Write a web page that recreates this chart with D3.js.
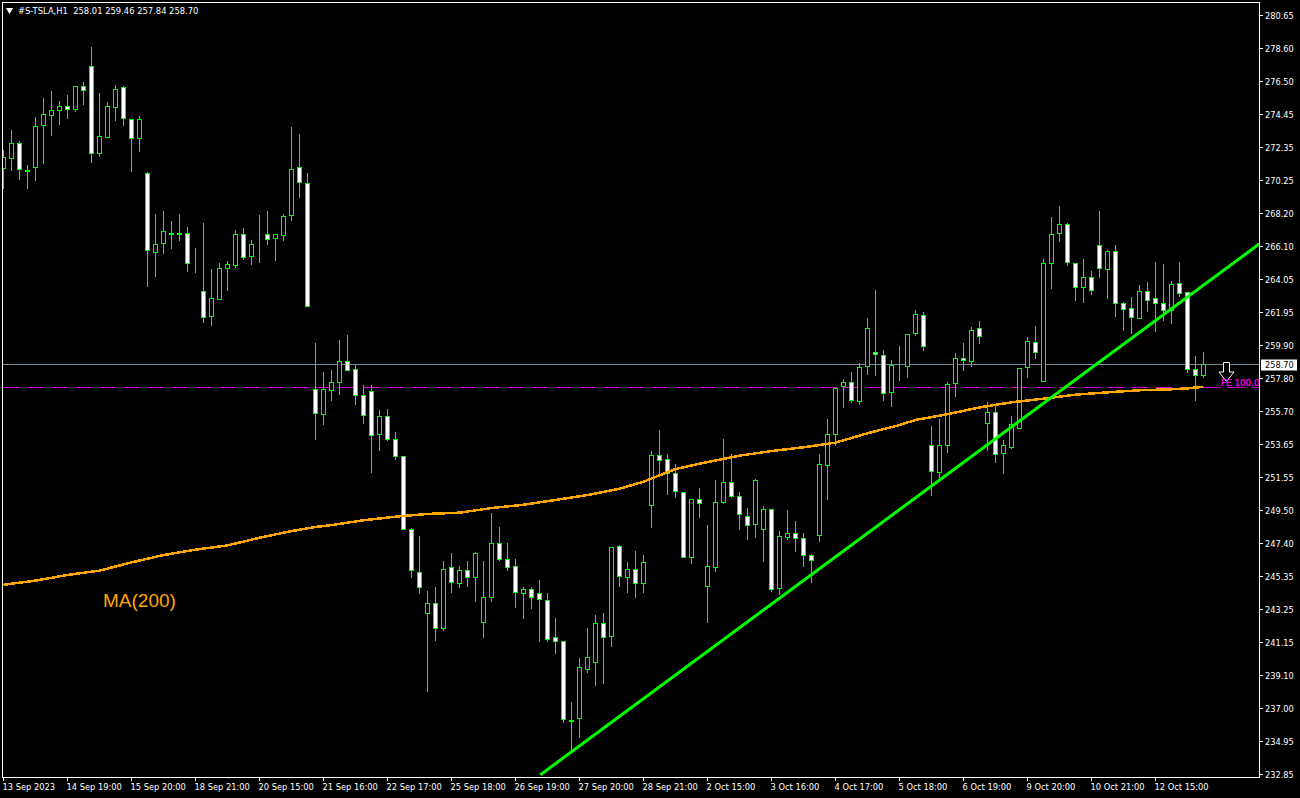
<!DOCTYPE html>
<html><head><meta charset="utf-8">
<script src="https://cdn.jsdelivr.net/npm/d3@7/dist/d3.min.js"></script>
<style>
html,body{margin:0;padding:0;background:#000;overflow:hidden}
svg{display:block}
text{font-family:"DejaVu Sans",sans-serif;white-space:pre}
</style></head><body>
<svg id="c" width="1300" height="798"></svg>
<script>
const symbolTitle = "#S-TSLA,H1  258.01 259.46 257.84 258.70";
const opens = [271.01,271.64,272.59,270.95,271.14,273.72,274.42,274.73,274.92,274.73,276.18,277.50,271.96,273.03,274.92,276.12,274.16,272.97,270.76,265.79,266.29,266.98,266.98,266.98,265.09,263.33,261.69,262.76,264.72,264.97,266.92,265.47,266.92,266.92,266.61,266.86,268.12,271.08,270.13,257.10,255.52,257.10,257.60,258.92,258.36,256.72,257.03,254.26,255.40,253.95,252.88,248.28,245.63,243.05,243.68,242.11,245.89,244.94,245.76,245.32,242.48,244.06,247.46,246.45,245.95,244.31,244.56,244.25,243.87,241.54,241.23,236.31,236.37,239.53,239.97,242.42,241.54,247.21,245.32,245.82,244.94,249.85,252.99,252.69,251.81,250.61,246.51,250.23,244.69,245.95,250.04,251.24,250.36,249.16,248.59,248.28,249.60,244.56,247.84,248.09,247.77,246.70,247.96,252.37,254.32,257.29,257.54,256.40,258.61,259.43,259.30,256.91,258.61,258.61,260.62,261.76,253.57,251.93,253.63,257.47,259.05,258.92,260.94,254.95,255.71,253.06,253.50,254.70,258.48,260.06,257.66,265.09,266.92,267.49,265.09,263.58,264.21,266.17,264.72,265.85,262.57,262.20,261.63,263.33,262.89,262.57,262.13,263.83,263.21,258.36,258.01];
const closes = [271.71,272.59,270.95,270.89,273.72,274.42,274.73,274.98,274.73,276.18,275.93,272.02,273.03,274.98,276.05,274.16,272.97,274.16,265.91,266.29,267.05,266.92,266.92,265.09,265.09,261.69,262.83,264.72,264.97,266.92,265.47,266.23,266.92,266.61,266.86,268.05,271.01,270.13,262.39,255.58,257.10,257.60,258.92,258.36,256.72,255.46,254.26,255.40,253.95,252.88,248.28,245.70,244.69,243.68,242.11,245.82,244.94,245.76,245.32,246.83,244.06,247.46,246.45,245.95,244.31,244.56,244.06,243.87,241.41,241.29,236.31,236.25,239.59,240.28,242.42,241.54,247.15,245.32,245.82,244.94,246.26,252.99,252.69,251.81,250.67,246.51,250.17,249.98,245.95,250.04,251.30,250.36,249.22,248.59,251.37,249.54,244.56,247.84,248.09,247.77,246.70,246.39,252.43,254.32,257.22,257.54,256.40,258.54,261.00,259.30,256.91,258.61,258.61,260.62,261.82,259.80,251.93,253.63,257.47,259.05,258.92,260.87,260.43,255.65,253.06,253.57,254.95,258.48,260.12,259.43,265.09,266.92,267.49,265.09,263.58,264.21,263.39,264.72,265.85,262.57,262.20,261.63,263.33,262.76,262.57,262.13,263.77,263.21,258.36,258.01,258.70];
const highs = [272.21,273.47,272.78,271.27,274.29,275.49,275.93,275.30,275.67,276.24,276.49,278.70,275.80,275.23,276.31,276.24,274.16,274.35,270.83,268.18,268.37,267.74,268.18,267.36,266.04,267.61,264.72,265.09,265.22,267.17,267.30,266.54,268.12,268.37,266.92,268.18,273.66,273.22,270.76,260.06,258.23,258.36,260.25,260.56,258.67,257.41,257.41,255.84,255.90,254.45,252.88,248.40,247.90,244.44,244.69,246.35,246.83,246.01,246.35,246.89,246.35,249.35,248.47,247.46,246.45,244.69,244.69,245.13,244.31,242.73,241.23,237.45,240.22,242.11,242.93,243.05,247.21,247.33,246.26,246.96,246.70,253.25,254.58,253.06,252.43,250.67,250.23,250.92,248.59,251.43,254.01,253.06,250.67,249.66,251.49,249.79,249.60,248.22,249.54,248.84,248.09,246.77,253.06,255.27,257.22,257.79,258.23,258.80,261.63,263.39,259.61,258.98,259.87,260.62,262.13,262.01,254.83,255.27,257.60,259.43,260.06,261.06,261.44,256.34,256.09,253.95,255.46,258.48,260.43,261.13,265.35,267.99,268.68,267.61,265.09,265.35,264.59,268.37,265.91,266.23,262.64,262.95,263.71,263.90,265.16,265.03,263.96,265.16,263.27,259.24,259.46];
const lows = [269.76,270.89,270.32,269.76,270.26,271.33,273.09,273.79,274.16,274.60,275.05,271.39,271.77,273.03,274.04,273.72,270.83,272.09,263.58,264.21,265.66,265.98,266.48,264.53,264.46,261.32,261.13,262.76,263.33,264.78,265.28,264.97,265.09,266.23,265.22,266.48,267.74,269.19,262.32,253.95,254.89,256.40,256.78,258.29,256.15,254.95,251.87,253.25,253.88,252.69,248.28,245.26,244.25,238.07,241.29,241.92,244.31,244.63,244.69,243.74,241.48,243.74,246.35,245.70,243.37,242.67,243.30,241.23,241.23,240.47,236.12,234.42,235.18,239.27,238.45,238.58,240.91,244.69,244.31,244.00,244.31,248.40,251.62,250.48,250.29,246.51,246.14,249.03,242.42,245.63,249.92,250.29,248.28,247.65,247.78,246.26,244.37,244.18,247.65,246.89,245.95,244.94,247.52,250.17,253.57,255.96,256.28,256.15,258.04,257.98,256.40,256.02,257.66,257.85,260.50,259.55,250.42,251.43,253.13,256.66,258.29,258.54,259.99,253.25,252.50,251.81,253.38,254.64,257.85,259.05,257.60,263.46,266.42,264.91,262.70,262.57,263.08,264.15,262.83,261.69,260.81,260.62,261.57,262.01,260.75,261.44,261.25,262.95,258.17,256.40,257.84];
const maIndex = [0,4,8,12,16,20,24,28,32,36,39,41,45,49,53,57,61,65,69,73,77,80,84,88,92,96,100,104,108,112,114,118,122,126,130,134,138,142,146,148,150];
const maValues = [244.83,245.09,245.45,245.72,246.24,246.70,247.04,247.31,247.79,248.21,248.47,248.59,248.89,249.12,249.29,249.37,249.66,249.87,250.17,250.48,250.88,251.32,252.12,252.56,252.96,253.25,253.49,253.78,254.37,254.89,255.21,255.57,256.00,256.32,256.55,256.80,256.95,257.08,257.14,257.20,257.30];
const trendIndex = [67.1,156.96];
const trendPrice = [232.86,266.29];
const priceTicks = ["280.65","278.60","276.50","274.45","272.35","270.25","268.20","266.10","264.05","261.95","259.90","257.80","255.70","253.65","251.55","249.50","247.40","245.35","243.25","241.15","239.10","237.00","234.95","232.85"];
const timeLabels = ["13 Sep 2023","14 Sep 19:00","15 Sep 20:00","18 Sep 21:00","20 Sep 15:00","21 Sep 16:00","22 Sep 17:00","25 Sep 18:00","26 Sep 19:00","27 Sep 20:00","28 Sep 21:00","2 Oct 15:00","3 Oct 16:00","4 Oct 17:00","5 Oct 18:00","6 Oct 19:00","9 Oct 20:00","10 Oct 21:00","12 Oct 15:00"];
const lastPrice = 258.70;
const fePrice = 257.27;
const feLabel = "FE 100.0";
const maLabel = "MA(200)";

const GREEN = "#00ff00", ORANGE = "#ffa500", MAGENTA = "#d000d0", GREY = "#778899";
const svg = d3.select("#c");
const x = d3.scaleLinear().domain([0,150]).range([3.5,1203.5]);
const y = d3.scaleLinear().domain([280.65,232.85]).range([16,775]);
const px = v => Math.floor(v) + 0.5;

svg.append("rect").attr("width",1300).attr("height",798).attr("fill","#000");
svg.append("defs").append("clipPath").attr("id","plot").append("rect")
  .attr("x",3).attr("y",3).attr("width",1256).attr("height",774);
const plot = svg.append("g").attr("clip-path","url(#plot)");

// horizontal levels behind the candles
plot.append("line").attr("x1",3).attr("x2",1259).attr("y1",px(y(lastPrice))).attr("y2",px(y(lastPrice)))
  .attr("stroke",GREY).attr("shape-rendering","crispEdges");
plot.append("line").attr("x1",3).attr("x2",1259).attr("y1",px(y(fePrice))).attr("y2",px(y(fePrice)))
  .attr("stroke",MAGENTA).attr("stroke-dasharray","18 6").attr("shape-rendering","crispEdges");

// candles
const candles = d3.range(opens.length).map(i => ({i,o:opens[i],c:closes[i],h:highs[i],l:lows[i]}));
const cg = plot.append("g").attr("shape-rendering","crispEdges");
cg.selectAll("line.w").data(candles).join("line").attr("class","w")
  .attr("x1",d=>x(d.i)).attr("x2",d=>x(d.i))
  .attr("y1",d=>Math.round(y(d.h))).attr("y2",d=>Math.round(y(d.l)))
  .attr("stroke",GREEN);
cg.selectAll("rect.b").data(candles).join("rect").attr("class","b")
  .attr("x",d=>x(d.i)-2).attr("width",4)
  .attr("y",d=>px(y(Math.max(d.o,d.c))))
  .attr("height",d=>Math.round(Math.abs(y(d.o)-y(d.c))))
  .attr("fill",d=>d.c<d.o?"#fff":"#000")
  .attr("stroke",GREEN);

// moving average
const maLine = d3.line().x((d,i)=>x(maIndex[i])).y(d=>y(d));
plot.append("path").attr("d",maLine(maValues)).attr("fill","none")
  .attr("stroke",ORANGE).attr("stroke-width",2.5).attr("shape-rendering","crispEdges");

// trend line
plot.append("line").attr("x1",x(trendIndex[0])).attr("y1",y(trendPrice[0]))
  .attr("x2",x(trendIndex[1])).attr("y2",y(trendPrice[1]))
  .attr("stroke",GREEN).attr("stroke-width",3);

// frame
svg.append("rect").attr("x",2.5).attr("y",2.5).attr("width",1257).attr("height",775)
  .attr("fill","none").attr("stroke","#fff").attr("shape-rendering","crispEdges");

// price axis
const yTicks = y.copy().range([15,774]);
const yAxis = d3.axisRight(yTicks).tickValues(priceTicks.map(Number))
  .tickFormat((d,i)=>priceTicks[i]).tickSize(3).tickPadding(3);
const gy = svg.append("g").attr("transform","translate(1259.5,0)").call(yAxis);
gy.select(".domain").remove();
gy.selectAll(".tick").attr("transform",d=>`translate(0,${Math.ceil(yTicks(d)-0.4)+0.5})`);
gy.selectAll(".tick line").attr("stroke","#fff").attr("shape-rendering","crispEdges");
gy.selectAll(".tick text").attr("fill","#fff").attr("font-size","8.2px").attr("dy","3.5px")
  .attr("x",5.5).style("font-family",'"DejaVu Sans",sans-serif');

// time axis
const xAxis = d3.axisBottom(x).tickValues(timeLabels.map((d,i)=>i*8))
  .tickFormat((d,i)=>timeLabels[i]).tickSize(3);
const gx = svg.append("g").attr("transform","translate(0,777.5)").call(xAxis);
gx.select(".domain").remove();
gx.selectAll(".tick").attr("transform",d=>`translate(${x(d)},0)`);
gx.selectAll(".tick line").attr("stroke","#fff").attr("shape-rendering","crispEdges");
gx.selectAll(".tick text").attr("fill","#fff").attr("font-size","8.3px").attr("text-anchor","start")
  .attr("x",-1).attr("y",12.5).attr("dy",0).style("font-family",'"DejaVu Sans",sans-serif');

// current price box
const ly = px(y(lastPrice));
svg.append("rect").attr("x",1261).attr("y",ly-5).attr("width",36).attr("height",11).attr("fill","#fff");
svg.append("text").attr("x",1265).attr("y",ly+3.5).attr("fill","#000").attr("font-size","8.2px").text(lastPrice.toFixed(2));

// header
const tri = d3.symbol().type(d3.symbolTriangle).size(22)();
svg.append("path").attr("d",tri).attr("transform","translate(9.5,10) rotate(180)").attr("fill","#fff");
svg.append("text").attr("x",18).attr("y",14).attr("fill","#fff").attr("font-size","8.4px").text(symbolTitle);

// MA label
svg.append("text").attr("x",103).attr("y",606.7).attr("fill",ORANGE).attr("font-size","19px")
  .style("font-family",'"Liberation Sans",sans-serif').text(maLabel);

// arrow and FE label
const arrow = [[1223.5,362.5],[1229.5,362.5],[1229.5,372],[1234,372],[1226.5,381.5],[1219,372],[1223.5,372]];
svg.append("path").attr("d",d3.line()(arrow)+"Z").attr("fill","#000").attr("stroke","#fff");
svg.append("text").attr("x",1221).attr("y",386).attr("fill","#ff00ff").attr("stroke","#ff00ff").attr("stroke-width",0.2).attr("font-size","8.8px").text(feLabel);
</script>
</body></html>
